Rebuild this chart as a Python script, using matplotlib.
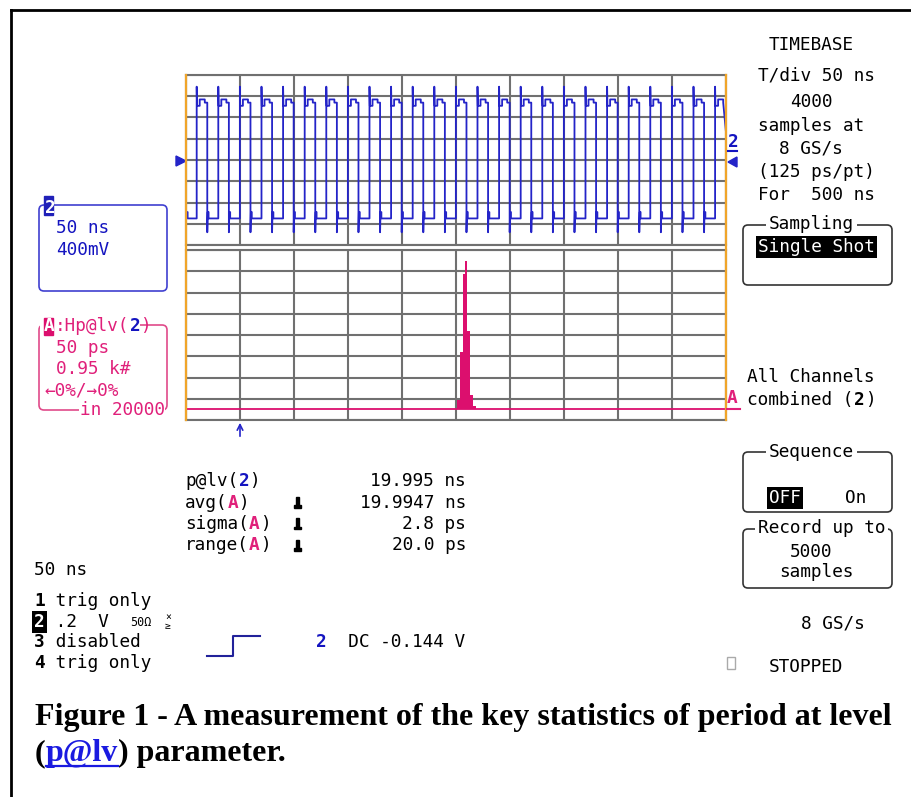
import matplotlib
matplotlib.use("Agg")
import numpy as np
import matplotlib.pyplot as plt
from matplotlib.patches import FancyBboxPatch, Rectangle, Polygon

W, H = 911, 797

# channel 2 trace: time in ns, amplitude in divisions
rise_times = [9.9, 29.9, 49.9, 69.9, 89.9, 109.9, 129.9, 149.9, 169.9, 189.9,
              209.9, 229.9, 249.9, 269.9, 289.9, 309.9, 329.9, 349.9, 369.9,
              389.9, 409.9, 429.9, 449.9, 469.9, 489.9]
cycle_t = [0.0, 0.0, 0.3, 2.8, 2.8, 7.5, 7.5, 9.8, 9.8, 10.2, 11.0, 11.0]
cycle_v = [-2.75, 3.45, 2.55, 2.55, 2.85, 2.85, 2.7, 2.7, -3.4, -2.45, -2.45, -2.75]
lead_t = [0.0, 1.5, 1.5]
lead_v = [-2.45, -2.45, -2.75]
end_t, end_v = 500.0, 1.3

# histogram of period at level (ns, counts)
period_edges = [19.9871, 19.9902, 19.9927, 19.9948, 19.9970, 19.9995, 20.0025, 20.0050]
period_counts = [440, 2570, 6060, 6640, 3500, 660, 130]
hist_center = 19.9865   # ns at grid centre, 50 ps/div
counts_per_div = 950

BLUE = '#2424c8'
TXT_BLUE = '#1414c0'
MAG = '#dc0f6e'
TXT_MAG = '#e0207a'
ORANGE = '#f0a52a'
GRID = '#707070'

FS = 12.8
CW = 0.602 * FS * 100 / 72

fig = plt.figure(figsize=(W / 100, H / 100), dpi=100)


def px_axes(x0, y0, x1, y1):
    return fig.add_axes([x0 / W, 1 - y1 / H, (x1 - x0) / W, (y1 - y0) / H])


def style_grid(ax):
    ax.tick_params(length=0, labelbottom=False, labelleft=False)
    ax.grid(True, color=GRID, lw=1.5)
    ax.set_axisbelow(True)
    for s in ax.spines.values():
        s.set_color(GRID)
        s.set_linewidth(1.5)


# upper grid: waveform
up = px_axes(186, 75, 726, 245)
t, v = list(lead_t), list(lead_v)
for rt in rise_times:
    for ct, cv in zip(cycle_t, cycle_v):
        if rt + ct <= 499.5:
            t.append(rt + ct)
            v.append(cv)
t.append(end_t)
v.append(end_v)
up.plot(t, v, color=BLUE, lw=1.3)
up.set_xlim(0, 500)
up.set_ylim(-4, 4)
up.set_xticks(np.arange(0, 501, 50))
up.set_yticks(np.arange(-4, 5))
style_grid(up)

# lower grid: histogram
lo = px_axes(186, 250, 726, 420)
lo.axhline(0, color=MAG, lw=1.3)
lo.stairs(period_counts, period_edges, fill=True, color=MAG, baseline=0)
lo.set_xlim(hist_center - 0.25, hist_center + 0.25)
lo.set_ylim(-0.5 * counts_per_div, 7.5 * counts_per_div)
lo.set_xticks(hist_center + np.arange(-5, 6) * 0.05)
lo.set_yticks((np.arange(0, 9) - 0.5) * counts_per_div)
style_grid(lo)

# overlay in pixel coordinates for the screen text
ov = fig.add_axes([0, 0, 1, 1])
ov.set_xlim(0, W)
ov.set_ylim(H, 0)
ov.axis('off')
ov.patch.set_alpha(0)

ov.plot([11, W], [10, 10], color='black', lw=2)
ov.plot([11, 11], [10, H], color='black', lw=2)
for xe in (186, 726):
    ov.plot([xe, xe], [75, 420], color=ORANGE, lw=1.6)


def mono(x, y, parts, fs=FS):
    col = 0
    for p in parts:
        if isinstance(p, str):
            p = (p,)
        s = p[0]
        color = p[1] if len(p) > 1 else 'black'
        bold = p[2] if len(p) > 2 else False
        bg = p[3] if len(p) > 3 else None
        kw = {}
        if bg:
            kw['bbox'] = dict(boxstyle='square,pad=0.12', fc=bg, ec='none')
        ov.text(x + col * CW, y, s, family='DejaVu Sans Mono', fontsize=fs,
                color=color, fontweight='bold' if bold else 'normal',
                va='baseline', ha='left', **kw)
        col += len(s)


def box(x0, y0, x1, y1, color, lw=1.2):
    ov.add_patch(FancyBboxPatch((x0, y0), x1 - x0, y1 - y0,
                                boxstyle='round,pad=0,rounding_size=5',
                                fc='none', ec=color, lw=lw))


WHITE_BG = dict(boxstyle='square,pad=0.15', fc='white', ec='none')

# right panel
mono(769, 50, ['TIMEBASE'])
mono(758, 80, ['T/div 50 ns'])
mono(790, 107, ['4000'])
mono(758, 131, ['samples at'])
mono(779, 153, ['8 GS/s'])
mono(758, 177, ['(125 ps/pt)'])
mono(758, 200, ['For  500 ns'])

box(743, 225, 892, 285, '#333333')
ov.text(769, 229, 'Sampling', family='DejaVu Sans Mono', fontsize=FS,
        va='baseline', bbox=WHITE_BG)
mono(758, 252, [('Single Shot', 'white', False, 'black')])

mono(747, 382, ['All Channels'])
mono(747, 405, ['combined (', ('2', 'black', True), ')'])

box(743, 452, 892, 512, '#333333')
ov.text(769, 457, 'Sequence', family='DejaVu Sans Mono', fontsize=FS,
        va='baseline', bbox=WHITE_BG)
mono(769, 503, [('OFF', 'white', False, 'black')])
mono(845, 503, ['On'])

box(743, 529, 892, 588, '#333333')
ov.text(758, 533, 'Record up to', family='DejaVu Sans Mono', fontsize=FS,
        va='baseline', bbox=WHITE_BG)
mono(790, 557, ['5000'])
mono(779, 577, ['samples'])
mono(801, 628, ['8 GS/s'])
ov.add_patch(Rectangle((727, 657), 8, 12, fc='none', ec='#aaaaaa', lw=1))
mono(769, 672, ['STOPPED'])

# grid markers
ov.add_patch(Polygon([[176, 156], [186, 161], [176, 166]], color=BLUE))
ov.text(728, 147, '2', family='DejaVu Sans Mono', fontsize=FS, fontweight='bold',
        color=TXT_BLUE, va='baseline')
ov.plot([728, 737], [151, 151], color=TXT_BLUE, lw=1.5)
ov.add_patch(Polygon([[737, 157], [728, 162], [737, 167]], color=BLUE))
ov.text(727, 403, 'A', family='DejaVu Sans Mono', fontsize=FS, fontweight='bold',
        color=TXT_MAG, va='baseline')
ov.plot([727, 740], [409, 409], color=TXT_MAG, lw=1.5)
ov.annotate('', xy=(240, 420), xytext=(240, 439),
            arrowprops=dict(arrowstyle='->', color=BLUE, lw=1.2))

# left boxes
box(39, 205, 167, 291, '#4040d0')
ov.add_patch(Rectangle((44, 196), 9, 19, color='#2020b8'))
ov.text(44.5, 213, '2', family='DejaVu Sans Mono', fontsize=FS, fontweight='bold',
        color='white', va='baseline')
mono(56, 233, [('50 ns', TXT_BLUE)])
mono(56, 255, [('400mV', TXT_BLUE)])

box(39, 325, 167, 410, '#e04a8a')
ov.add_patch(Rectangle((40, 318), 100, 14, fc='white', ec='none'))
ov.add_patch(Rectangle((44, 318), 9, 17, color=MAG))
mono(44, 331, [('A', 'white', True), (':Hp@lv(', TXT_MAG), ('2', TXT_BLUE, True),
               (')', TXT_MAG)])
mono(56, 353, [('50 ps', TXT_MAG)])
mono(56, 374, [('0.95 k#', TXT_MAG)])
mono(44, 395, [('←0%/→0%', TXT_MAG)])
ov.add_patch(Rectangle((79, 403), 86, 14, fc='white', ec='none'))
mono(80, 415, [('in 20000', TXT_MAG)])

# measurements
meas_rows = [
    (['p@lv(', ('2', TXT_BLUE, True), ')'], '19.995 ns', False),
    (['avg(', ('A', TXT_MAG, True), ')'], '19.9947 ns', True),
    (['sigma(', ('A', TXT_MAG, True), ')'], '2.8 ps', True),
    (['range(', ('A', TXT_MAG, True), ')'], '20.0 ps', True),
]
for i, (label, val, icon) in enumerate(meas_rows):
    yb = 486 + i * 21.5
    mono(185, yb, label)
    ov.text(466, yb, val, family='DejaVu Sans Mono', fontsize=FS,
            ha='right', va='baseline')
    if icon:
        ov.add_patch(Rectangle((296, yb - 11), 3, 10, color='black'))
        ov.add_patch(Rectangle((294, yb - 2.5), 7, 2.5, color='black'))

# channel summary
mono(34, 575, ['50 ns'])
mono(34, 606, [('1', 'black', True), ' trig only'])
mono(34, 627, [('2', 'white', True, 'black'), ' .2  V'])
ov.text(130, 626, '50Ω', family='DejaVu Sans Mono', fontsize=8.5, va='baseline')
ov.text(165, 620, '×', family='DejaVu Sans Mono', fontsize=7, va='baseline')
ov.text(165, 629, '≥', family='DejaVu Sans Mono', fontsize=7, va='baseline')
mono(34, 647, [('3', 'black', True), ' disabled'])
mono(34, 668, [('4', 'black', True), ' trig only'])
ov.plot([207, 233, 233, 260], [656, 656, 636, 636], color='#22229a', lw=1.5)
mono(316, 647, [('2', TXT_BLUE, True), '  DC -0.144 V'])

# caption
CAP = dict(family='Liberation Serif', fontweight='bold', fontsize=23.0, va='baseline')
ov.text(35, 725, 'Figure 1 - A measurement of the key statistics of period at level', **CAP)
r = fig.canvas.get_renderer()
x = 35
for s, c in [('(', 'black'), ('p@lv', '#1a1ae0'), (') parameter.', 'black')]:
    tx = ov.text(x, 761, s, color=c, **CAP)
    w = tx.get_window_extent(renderer=r).width
    if c != 'black':
        ov.plot([x, x + w], [766, 766], color=c, lw=1.6)
    x += w

fig.savefig('out.png', dpi=100)
